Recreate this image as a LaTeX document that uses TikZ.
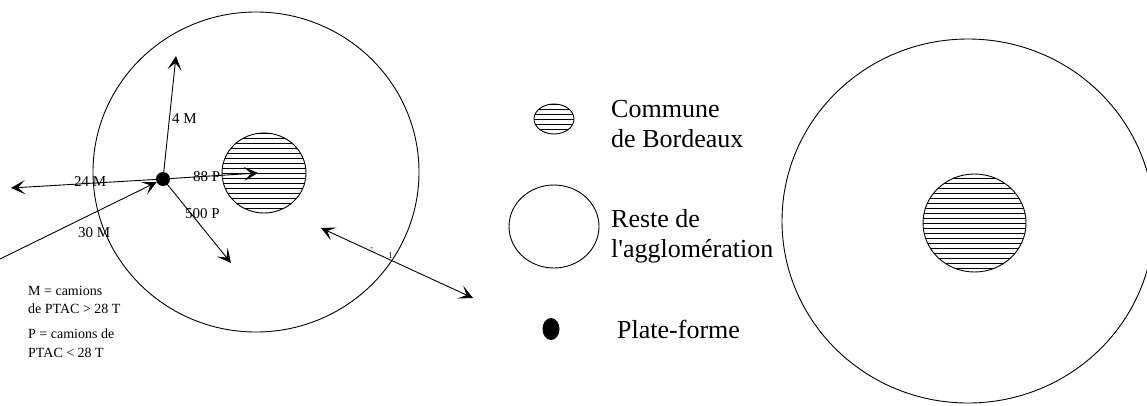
\documentclass[tikz,border=0pt]{standalone}
\usepackage{fontspec}
\newfontfamily\tnr{Liberation Serif}
\usetikzlibrary{arrows.meta,shapes.geometric}
\begin{document}
\begin{tikzpicture}[x=1pt,y=-1pt,
  outline/.style={ellipse, draw, line width=0.9pt, inner sep=0pt},
  hatched/.style={outline, path picture={
     \foreach \k in {-30,...,30}{
       \draw[line width=1pt]
         ([yshift=\k*5pt]path picture bounding box.west) --
         ([yshift=\k*5pt]path picture bounding box.east);}}},
  dot/.style={ellipse, fill=black, inner sep=0pt},
  barb/.tip={Stealth[length=14pt,width=14pt,inset=7pt]},
  flow/.style={line width=0.9pt, -{barb}},
  both/.style={line width=0.9pt, {barb}-{barb}},
  lab/.style={font=\tnr\fontsize{15}{17}\selectfont, anchor=base west, inner sep=0pt},
  note/.style={font=\tnr\fontsize{14}{16}\selectfont, anchor=base west, inner sep=0pt},
  legend/.style={font=\tnr\fontsize{26}{30}\selectfont, anchor=base west, inner sep=0pt},
  tiny/.style={font=\tnr\fontsize{9}{10}\selectfont, anchor=base west, inner sep=0pt}]
\useasboundingbox (0,0) rectangle (1147,405);
\clip (0,0) rectangle (1147,405);

% left map: agglomeration and Bordeaux
\node[outline, minimum width=326pt, minimum height=320pt] (agglo) at (256,172) {};
\node[hatched, minimum width=84pt, minimum height=80pt] (bdx) at (264,173) {};

% platform and truck flows
\node[dot, minimum width=14pt, minimum height=14pt] (pf) at (163,179) {};
\coordinate (n4) at (176,56);
\coordinate (w24) at (11,188);
\coordinate (e88) at (258,173);
\coordinate (s500) at (231,263);
\coordinate (w30) at (0,259);
\coordinate (da) at (321,228);
\coordinate (db) at (473,298);

\draw[flow] (pf.center) -- (n4);
\draw[flow] (pf.center) -- (w24);
\draw[flow] (pf.center) -- (e88);
\draw[flow] (pf.center) -- (s500);
\draw[flow] (w30) -- (pf);
\draw[both] (da) -- (db);

\node[lab] (l4) at (172,123) {4 M};
\node[lab] (l24) at (74,186) {24 M};
\node[lab] (l88) at (193,181) {88 P};
\node[lab] (l30) at (78,237) {30 M};
\node[lab] (l500) at (185,218) {500 P};
\node[tiny] (tm) at (370,250) {-};
\node[tiny] (t1) at (388,258) {1};

% abbreviations
\node[note] (m1) at (28,295) {M = camions};
\node[note] (m2) at (28,313) {de PTAC > 28 T};
\node[note] (p1) at (28,338) {P = camions de};
\node[note] (p2) at (28,357) {PTAC < 28 T};

% legend
\node[hatched, minimum width=40pt, minimum height=30pt] (kbdx) at (554,119) {};
\node[legend] (k1a) at (611,117) {Commune};
\node[legend] (k1b) at (611,147) {de Bordeaux};
\node[outline, minimum width=90pt, minimum height=83pt] (kagg) at (554,226.5) {};
\node[legend] (k2a) at (611,227) {Reste de};
\node[legend] (k2b) at (611,257) {l'agglomération};
\node[dot, minimum width=17pt, minimum height=22pt] (kpf) at (551,329) {};
\node[legend] (k3) at (617,338) {Plate-forme};

% right map
\node[outline, minimum width=372pt, minimum height=364pt] (agglo2) at (968,221) {};
\node[hatched, minimum width=103pt, minimum height=98pt] (bdx2) at (974.5,223) {};
\end{tikzpicture}
\end{document}
